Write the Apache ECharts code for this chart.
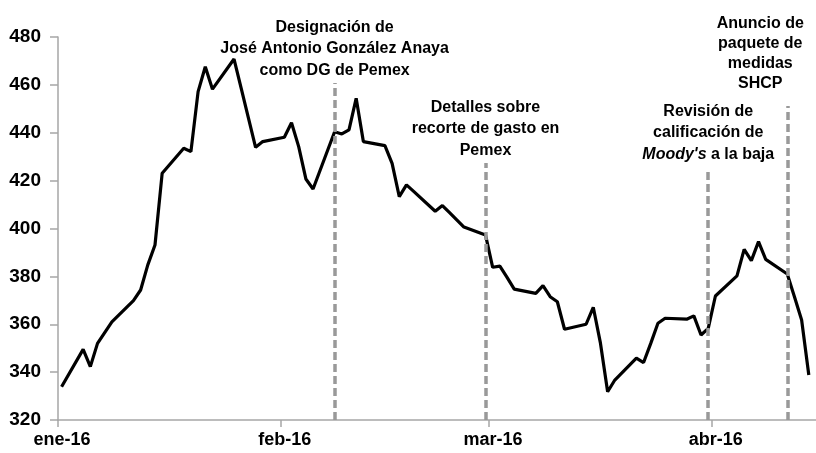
<!DOCTYPE html>
<html>
<head>
<meta charset="utf-8">
<script src="https://cdn.jsdelivr.net/npm/echarts@6/dist/echarts.min.js"></script>
<style>
  html, body { margin: 0; padding: 0; background: #fff; }
  #chart { width: 816px; height: 453px; }
</style>
</head>
<body>
<div id="chart"></div>
<script>
// spread, daily closes (trading days)
const dates = [
  '2016-01-01', '2016-01-04', '2016-01-05', '2016-01-06', '2016-01-07', '2016-01-08',
  '2016-01-11', '2016-01-12', '2016-01-13', '2016-01-14', '2016-01-15',
  '2016-01-18', '2016-01-19', '2016-01-20', '2016-01-21', '2016-01-22',
  '2016-01-25', '2016-01-26', '2016-01-27', '2016-01-28', '2016-01-29',
  '2016-02-01', '2016-02-02', '2016-02-03', '2016-02-04', '2016-02-05',
  '2016-02-08', '2016-02-09', '2016-02-10', '2016-02-11', '2016-02-12',
  '2016-02-15', '2016-02-16', '2016-02-17', '2016-02-18', '2016-02-19',
  '2016-02-22', '2016-02-23', '2016-02-24', '2016-02-25', '2016-02-26',
  '2016-02-29', '2016-03-01', '2016-03-02', '2016-03-03', '2016-03-04',
  '2016-03-07', '2016-03-08', '2016-03-09', '2016-03-10', '2016-03-11',
  '2016-03-14', '2016-03-15', '2016-03-16', '2016-03-17', '2016-03-18',
  '2016-03-21', '2016-03-22', '2016-03-23', '2016-03-24', '2016-03-25',
  '2016-03-28', '2016-03-29', '2016-03-30', '2016-03-31', '2016-04-01',
  '2016-04-04', '2016-04-05', '2016-04-06', '2016-04-07', '2016-04-08',
  '2016-04-11', '2016-04-12', '2016-04-13', '2016-04-14'
];
const values = [
  333.9, 349.5, 342.3, 352.0, 356.5, 361.0,
  369.9, 374.3, 384.8, 393.1, 423.1,
  433.5, 432.1, 457.2, 467.6, 458.2,
  470.8, 458.5, 446.2, 433.9, 436.3,
  438.1, 444.2, 434.2, 420.7, 416.5,
  440.4, 439.5, 441.2, 454.4, 436.3,
  434.6, 427.2, 413.3, 418.2, 415.5,
  407.2, 409.6, 406.6, 403.6, 400.6,
  397.3, 383.8, 384.3, 379.6, 374.7,
  372.9, 376.1, 371.5, 369.4, 357.9,
  360.0, 367.1, 352.1, 331.8, 336.7,
  345.8, 344.0, 352.0, 360.4, 362.5,
  362.1, 363.5, 355.5, 358.3, 371.8,
  380.2, 391.3, 386.6, 394.5, 387.1,
  381.0, 371.5, 361.8, 338.8
];

const monthStarts = ['2016-01-01', '2016-02-01', '2016-03-01', '2016-04-01'];
const monthLabels = ['ene-16', 'feb-16', 'mar-16', 'abr-16'];

const eventDates = ['2016-02-08', '2016-02-29', '2016-03-31', '2016-04-11'];
const eventTops = [460.8, 427.4, 423.6, 451.2];
const eventTexts = [
  'Designación de\nJosé Antonio González Anaya\ncomo DG de Pemex',
  'Detalles sobre\nrecorte de gasto en\nPemex',
  'Revisión de\ncalificación de\n{i|Moody\'s} a la baja',
  'Anuncio de\npaquete de\nmedidas\nSHCP'
];

const yTicks = { min: 320, max: 480, step: 20 };

const DAY = 86400000;
const origin = Date.UTC(2016, 0, 1);
const dayIndex = s => {
  const [y, m, d] = s.split('-').map(Number);
  return (Date.UTC(y, m - 1, d) - origin) / DAY;
};

const font = "'Liberation Sans', Arial, sans-serif";
const tickPos = monthStarts.map(dayIndex);

// per-annotation label tweaks
const labelTweaks = [
  { distance: 2 },
  { distance: 2 },
  { distance: 7 },
  { distance: 12, lineHeight: 20, padding: [0, 54, 0, 0] }
];

const chart = echarts.init(document.getElementById('chart'));
const option = {
  animation: false,
  grid: { left: 58, right: 0, top: 37, bottom: 33 },
  xAxis: {
    type: 'value',
    min: 0,
    max: 105.5,
    axisLine: { lineStyle: { color: '#a6a6a6', width: 1.5 } },
    axisTick: {
      show: true,
      customValues: tickPos,
      length: 7,
      lineStyle: { color: '#a6a6a6', width: 1.5 }
    },
    axisLabel: {
      customValues: tickPos,
      formatter: v => monthLabels[tickPos.indexOf(v)] || '',
      color: '#000',
      fontFamily: font,
      fontWeight: 'bold',
      fontSize: 18,
      margin: 11,
      padding: [0, 0, 0, 8]
    },
    splitLine: { show: false }
  },
  yAxis: {
    type: 'value',
    min: yTicks.min,
    max: yTicks.max,
    interval: yTicks.step,
    axisLine: { show: true, lineStyle: { color: '#a6a6a6', width: 1.5 } },
    axisTick: { show: true, length: 8, lineStyle: { color: '#a6a6a6', width: 1.5 } },
    axisLabel: {
      color: '#000',
      fontFamily: font,
      fontWeight: 'bold',
      fontSize: 19,
      margin: 17
    },
    splitLine: { show: false }
  },
  series: [
    {
      type: 'line',
      data: dates.map((d, i) => [dayIndex(d) + 0.5, values[i]]),
      showSymbol: false,
      symbol: 'none',
      clip: false,
      lineStyle: { color: '#000', width: 3.2 },
      z: 3,
      markLine: {
        silent: true,
        symbol: ['none', 'none'],
        lineStyle: { color: '#999', width: 3.5, type: [8, 4] },
        label: {
          show: true,
          position: 'end',
          distance: 6,
          color: '#000',
          fontFamily: font,
          fontWeight: 'bold',
          fontSize: 16,
          lineHeight: 21.5,
          align: 'center',
          rich: {
            i: { fontFamily: font, fontWeight: 'bold', fontSize: 16, fontStyle: 'italic', color: '#000' }
          }
        },
        data: eventDates.map((d, i) => [
          {
            coord: [dayIndex(d) + 0.5, yTicks.min],
            label: Object.assign({ formatter: eventTexts[i] }, labelTweaks[i])
          },
          { coord: [dayIndex(d) + 0.5, eventTops[i]] }
        ])
      }
    }
  ]
};
chart.setOption(option);
</script>
</body>
</html>
